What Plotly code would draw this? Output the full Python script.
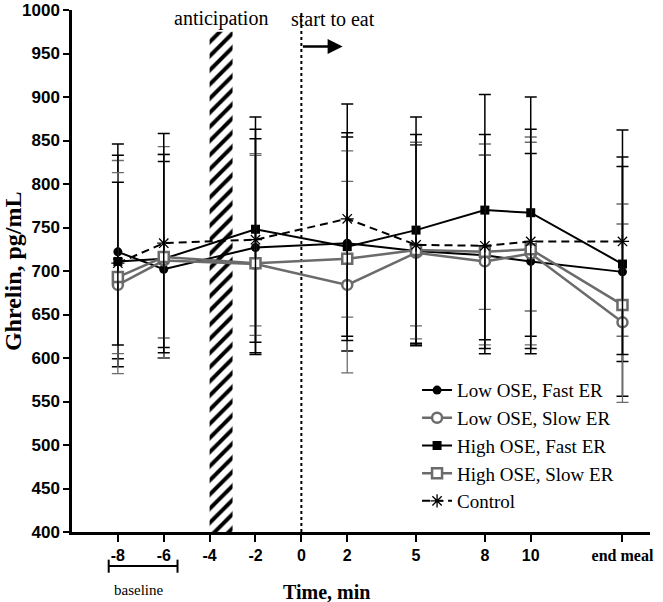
import plotly.graph_objects as go

# ---------------- data ----------------
TIMES = [-8, -6, -2, 2, 5, 8, 10, 14]          # 14 = "end meal"
TICK_VALS = [-8, -6, -4, -2, 0, 2, 5, 8, 10, 14]
TICK_TEXT = ['-8', '-6', '-4', '-2', '0', '2', '5', '8', '10',
             '<span style="font-family:Liberation Serif">end meal</span>']

low_fast = [722, 702, 727, 732, 723, 718, 711, 699]
low_slow = [684, 712, 708, 684, 721, 711, 720, 641]
high_fast = [711, 714, 748, 728, 747, 770, 767, 708]
high_slow = [693, 716, 709, 714, 724, 722, 725, 661]
control = [709, 732, 736, 760, 730, 729, 734, 734]

# upper / lower ends of the error bars
low_fast_hi = [846, 826, 852, 859, 845, 833, 835, 831]
low_fast_lo = [599, 600, 604, 608, 615, 611, 625, 556]
low_slow_hi = [827, 834, 833, 803, 845, 833, 848, 754]
low_slow_lo = [605, 623, 637, 583, 637, 656, 654, 625]
high_fast_hi = [833, 834, 877, 854, 877, 903, 900, 820]
high_fast_lo = [590, 612, 618, 620, 617, 621, 611, 596]
high_slow_hi = [813, 843, 835, 838, 848, 846, 854, 777]
high_slow_lo = [582, 600, 626, 647, 622, 615, 615, 549]
control_hi = [802, 858, 863, 892, 857, 857, 863, 862]
control_lo = [615, 606, 606, 625, 614, 605, 605, 604]

ANTICIPATION = (-4, -3)
BASELINE = (-8.4, -5.4)

GRAY = '#6b6b6b'
SERIF = 'Liberation Serif'
SANS = 'Liberation Sans'


def err(mean, hi, lo, color, thick):
    return dict(type='data', symmetric=False,
                array=[h - m for h, m in zip(hi, mean)],
                arrayminus=[m - l for m, l in zip(mean, lo)],
                color=color, thickness=thick, width=6)


fig = go.Figure()

# hatched "anticipation" band
fig.add_trace(go.Bar(
    x=[sum(ANTICIPATION) / 2], y=[975 - 400], base=[400],
    width=[ANTICIPATION[1] - ANTICIPATION[0]],
    marker=dict(color='white', line=dict(width=0),
                pattern=dict(shape='/', fgcolor='black', bgcolor='white',
                             size=10, solidity=0.4)),
    showlegend=False, hoverinfo='skip'))

series = [
    ('Low OSE, Fast ER', low_fast, low_fast_hi, low_fast_lo, 'black',
     dict(symbol='circle', size=9, color='black'), dict(color='black', width=2), 1.5),
    ('Low OSE, Slow ER', low_slow, low_slow_hi, low_slow_lo, GRAY,
     dict(symbol='circle', size=10, color='white', line=dict(color=GRAY, width=2.5)),
     dict(color=GRAY, width=2.5), 1.3),
    ('High OSE, Fast ER', high_fast, high_fast_hi, high_fast_lo, 'black',
     dict(symbol='square', size=9, color='black'), dict(color='black', width=2), 1.5),
    ('High OSE, Slow ER', high_slow, high_slow_hi, high_slow_lo, GRAY,
     dict(symbol='square', size=10, color='white', line=dict(color=GRAY, width=2.5)),
     dict(color=GRAY, width=2.5), 1.3),
    ('Control', control, control_hi, control_lo, 'black',
     dict(symbol='asterisk-open', size=11, color='black', line=dict(color='black', width=1.3)),
     dict(color='black', width=2, dash='8px,5px'), 1.5),
]

for i, (name, y, hi, lo, col, mk, ln, th) in enumerate(series):
    fig.add_trace(go.Scatter(
        x=TIMES, y=y, name=name, mode='lines+markers',
        line=ln, marker=mk, error_y=err(y, hi, lo, col, th),
        legendgroup='g%d' % i))

# meal start line and arrow
fig.add_shape(type='line', x0=0, x1=0, y0=400, y1=1000, xref='x', yref='y',
              line=dict(color='black', width=2, dash='dot'), layer='below')
fig.add_annotation(x=1.8, y=958, ax=0, ay=958, axref='x', ayref='y',
                   xref='x', yref='y', text='', showarrow=True,
                   arrowhead=2, arrowsize=1.2, arrowwidth=2.5, arrowcolor='black')

# baseline bracket
for x0, x1, y0, y1 in [(BASELINE[0], BASELINE[1], -0.065, -0.065),
                       (BASELINE[0], BASELINE[0], -0.053, -0.078),
                       (BASELINE[1], BASELINE[1], -0.053, -0.078)]:
    fig.add_shape(type='line', x0=x0, x1=x1, y0=y0, y1=y1, xref='x', yref='paper',
                  line=dict(color='black', width=2))


def label(text, x, y, xref, yref, size, xanchor='center', angle=0):
    fig.add_annotation(x=x, y=y, xref=xref, yref=yref, text=text, showarrow=False,
                       xanchor=xanchor, yanchor='middle', textangle=angle,
                       font=dict(family=SERIF, size=size, color='black'))


label('anticipation', -3.5, 990, 'x', 'y', 20)
label('start to eat', -0.55, 990, 'x', 'y', 20, xanchor='left')
label('baseline', -7.1, -0.111, 'x', 'paper', 15)
label('<b>Time, min</b>', 0.44, -0.114, 'paper', 'paper', 20)
label('<b>Ghrelin, pg/mL</b>', -0.102, 0.5, 'paper', 'paper', 24, angle=-90)

fig.update_layout(
    template='none',
    width=663, height=602,
    margin=dict(l=72, r=13, t=10, b=70, autoexpand=False),
    plot_bgcolor='white', paper_bgcolor='white',
    showlegend=True,
    legend=dict(x=0.597, y=0.308, xanchor='left', yanchor='top',
                font=dict(family=SERIF, size=19, color='black'),
                bgcolor='rgba(0,0,0,0)', tracegroupgap=0, itemwidth=30,
                traceorder='grouped'),
    xaxis=dict(range=[-10, 15.2], showline=True, linewidth=2.5, linecolor='black',
               ticks='outside', ticklen=7, tickwidth=2, tickcolor='black',
               tickvals=TICK_VALS, ticktext=TICK_TEXT, automargin=False,
               tickfont=dict(family=SANS, size=16, color='black', weight='bold'),
               showgrid=False, zeroline=False),
    yaxis=dict(range=[400, 1000], tick0=400, dtick=50, showline=True, linewidth=2.5,
               linecolor='black', ticks='outside', ticklen=6, tickwidth=2,
               tickcolor='black', automargin=False,
               tickfont=dict(family=SANS, size=17, color='black', weight='bold'),
               showgrid=False, zeroline=False),
)

# drop the default 8px page margin so the figure fills the window exactly
fig.write_html("out.html", config={'displayModeBar': False},
               post_script="document.body.style.margin='0';")
